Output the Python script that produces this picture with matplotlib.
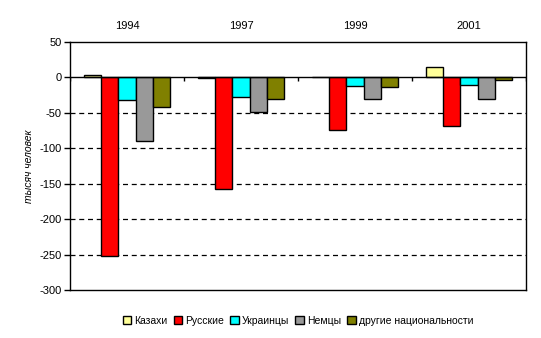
import numpy as np
import matplotlib
matplotlib.use('Agg')
import matplotlib.pyplot as plt

plt.rcParams['font.family'] = ['Liberation Sans', 'DejaVu Sans']
plt.rcParams['axes.unicode_minus'] = False

years = ['1994', '1997', '1999', '2001']
groups = ['Казахи', 'Русские', 'Украинцы', 'Немцы', 'другие национальности']
colors = ['#FFFF99', '#FF0000', '#00FFFF', '#999999', '#808000']

kazakhs = [4, -1, 0, 15]
russians = [-252, -158, -74, -68]
ukrainians = [-32, -27, -12, -10]
germans = [-90, -49, -31, -30]
others = [-42, -30, -13, -4]
series = [kazakhs, russians, ukrainians, germans, others]

fig = plt.figure(figsize=(5.41, 3.38), dpi=100)
ax = fig.add_axes([70/541, 1 - 290/338, 456/541, 248/338])

x = np.arange(len(years))
w = 0.15
for i, (vals, c, name) in enumerate(zip(series, colors, groups)):
    ax.bar(x + (i - 2) * w, vals, w, color=c, edgecolor='black', linewidth=1,
           label=name, zorder=3)

ax.set_xlim(-0.5, len(years) - 0.5)
ax.set_ylim(-300, 50)
ax.set_yticks(np.arange(-300, 51, 50))
for yv in range(-250, 0, 50):
    ax.axhline(yv, color='black', linestyle=(0, (4, 3)), linewidth=0.9, zorder=1)
ax.axhline(0, color='black', linewidth=1, zorder=4)
# category boundary ticks on the zero line
ax.vlines(np.arange(len(years) + 1) - 0.5, -5, 0, color='black', linewidth=1, zorder=4)

ax.xaxis.tick_top()
ax.set_xticks(x)
ax.set_xticklabels(years)
ax.tick_params(axis='x', length=0, pad=8, labelsize=8)
ax.tick_params(axis='y', length=4, width=1, labelsize=8, pad=2)
for s in ax.spines.values():
    s.set_linewidth(1)

ax.set_ylabel('тысяч человек', fontsize=7.5, style='italic')
ax.yaxis.set_label_coords(-0.08, 0.5)

ax.legend(loc='center', bbox_to_anchor=(0.5, -0.125), ncol=5, frameon=False,
          fontsize=7.5, handlelength=0.8, handleheight=0.8, handletextpad=0.3,
          columnspacing=0.6)

fig.savefig('out.png', dpi=100)
